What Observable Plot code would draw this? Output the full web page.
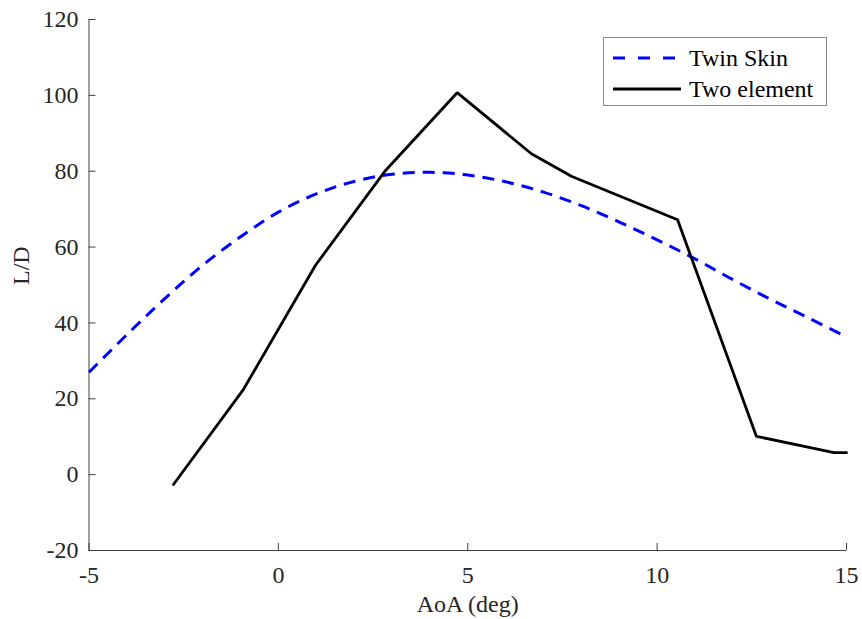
<!DOCTYPE html>
<html>
<head>
<meta charset="utf-8">
<script src="https://cdn.jsdelivr.net/npm/d3@7"></script>
<script src="https://cdn.jsdelivr.net/npm/@observablehq/plot@0.6"></script>
<style>
  html, body { margin: 0; padding: 0; background: #fff; }
  #wrap { position: relative; width: 862px; height: 619px; font-family: "Liberation Serif", "Times New Roman", serif; }
  #legend { position: absolute; left: 603px; top: 37px; width: 224px; height: 69px; border: 1px solid #8a8a8a; background: #fff; box-sizing: border-box; }
  #legend .row { position: absolute; left: 0; height: 30px; display: flex; align-items: center; }
  #legend span { font-size: 24px; color: #000; margin-left: 8px; line-height: 30px; }
</style>
</head>
<body>
<div id="wrap"></div>
<script>
// Twin Skin (dashed blue)
const twinAoA = [-5, -4, -3, -2, -1, 0, 1, 2, 3, 4, 5, 6, 7, 8, 9, 10, 11, 12, 13, 14, 15];
const twinLD  = [27.0, 36.9, 46.4, 55.2, 62.7, 69.2, 74.0, 77.3, 79.2, 79.7, 79.0, 77.2, 74.5, 70.9, 66.6, 61.9, 56.9, 51.4, 46.2, 41.3, 36.3];
// Two element (solid black)
const twoAoA = [-2.77, -0.92, 0.98, 2.83, 4.72, 6.68, 7.75, 10.54, 12.62, 14.67, 15.0];
const twoLD  = [-2.6, 22.5, 55.2, 80.2, 100.7, 84.6, 78.6, 67.2, 10.1, 5.8, 5.8];

const xTicks = [-5, 0, 5, 10, 15];
const yTicks = [-20, 0, 20, 40, 60, 80, 100, 120];
const seriesNames = ["Twin Skin", "Two element"];
const xLabel = "AoA (deg)";
const yLabel = "L/D";

const twin = twinAoA.map((x, i) => ({x, y: twinLD[i]}));
const two = twoAoA.map((x, i) => ({x, y: twoLD[i]}));

const axisColor = "#404040";
const font = '"Liberation Serif", "Times New Roman", serif';

const chart = Plot.plot({
  width: 862,
  height: 619,
  marginLeft: 88.5,
  marginRight: 16,
  marginTop: 19,
  marginBottom: 69,
  style: {fontFamily: font, fontSize: "24px", color: "#262626", background: "#fff"},
  x: {domain: [-5, 15]},
  y: {domain: [-20, 120]},
  marks: [
    Plot.ruleX([-5], {stroke: axisColor, strokeWidth: 1}),
    Plot.ruleY([-20], {stroke: axisColor, strokeWidth: 1}),
    Plot.axisX({ticks: xTicks, tickSize: -7, tickPadding: 22.7, tickFormat: d => String(d), stroke: axisColor, fill: "#262626", label: null, fontSize: 24}),
    Plot.axisY({ticks: yTicks, tickSize: -7, tickPadding: 17.5, tickFormat: d => String(d), stroke: axisColor, fill: "#262626", label: null, fontSize: 24}),
    Plot.line(twin, {x: "x", y: "y", curve: "catmull-rom", stroke: "#0000ff", strokeWidth: 3, strokeDasharray: "12,8", strokeLinecap: "butt"}),
    Plot.line(two, {x: "x", y: "y", stroke: "#000", strokeWidth: 2.8, strokeLinejoin: "miter"}),
    Plot.text([xLabel], {frameAnchor: "bottom", dy: 54, lineAnchor: "middle", fontSize: 24, fill: "#262626"}),
    Plot.text([yLabel], {frameAnchor: "left", dx: -68, rotate: -90, lineAnchor: "middle", fontSize: 24, fill: "#262626"})
  ]
});

const wrap = document.getElementById("wrap");
wrap.appendChild(chart);

// Legend
const legend = document.createElement("div");
legend.id = "legend";
const styles = [
  {stroke: "#0000ff", dash: "12,13", width: 3},
  {stroke: "#000", dash: null, width: 3}
];
seriesNames.forEach((name, i) => {
  const row = document.createElement("div");
  row.className = "row";
  row.style.top = (5 + i * 31) + "px";
  row.style.left = "9px";
  const svg = d3.create("svg").attr("width", 68).attr("height", 30);
  svg.append("line").attr("x1", 0).attr("x2", 68).attr("y1", 15).attr("y2", 15)
    .attr("stroke", styles[i].stroke).attr("stroke-width", styles[i].width)
    .attr("stroke-dasharray", styles[i].dash);
  row.appendChild(svg.node());
  const span = document.createElement("span");
  span.textContent = name;
  row.appendChild(span);
  legend.appendChild(row);
});
wrap.appendChild(legend);
</script>
</body>
</html>
